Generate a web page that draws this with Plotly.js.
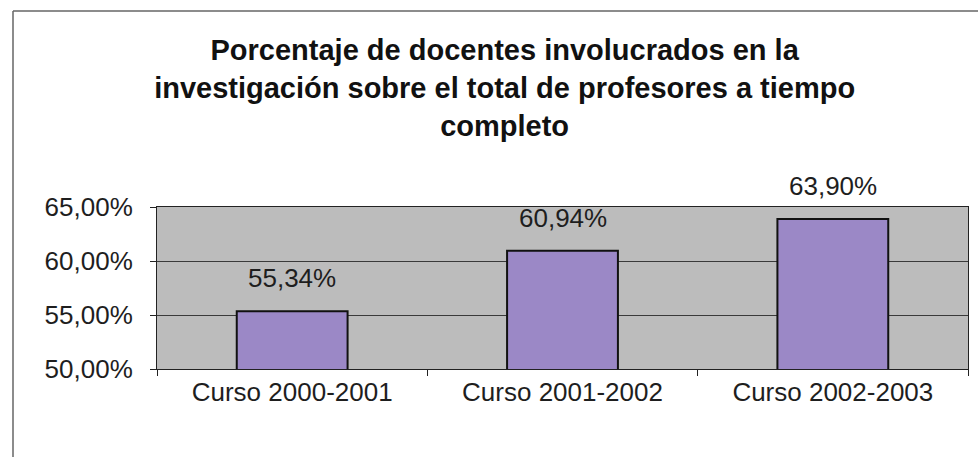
<!DOCTYPE html>
<html>
<head>
<meta charset="utf-8">
<script src="https://cdn.plot.ly/plotly-3.0.1.min.js"></script>
<style>
html,body{margin:0;padding:0;background:#fff;}
#chart{width:978px;height:457px;}
</style>
</head>
<body>
<div id="chart"></div>
<script>
var categories = ["Curso 2000-2001", "Curso 2001-2002", "Curso 2002-2003"];
var values = [55.34, 60.94, 63.90];
var yTicks = [50, 55, 60, 65];

var textColor = "#1e1e1e";
var fontFam = "Liberation Sans, Arial, sans-serif";

function pct(v){ return v.toFixed(2).replace(".", ",") + "%"; }

var trace = {
  type: "bar",
  x: categories,
  y: values,
  marker: {color: "#9b88c6", line: {color: "#111", width: 2}},
  hoverinfo: "none"
};

var annotations = categories.map(function(c, i){
  return {
    x: c, y: values[i], xref: "x", yref: "y",
    text: pct(values[i]),
    showarrow: false, yanchor: "middle", yshift: 33,
    font: {family: fontFam, size: 26, color: textColor}
  };
});

var layout = {
  width: 978, height: 457,
  margin: {l: 157, r: 10, t: 207, b: 88},
  paper_bgcolor: "#ffffff",
  plot_bgcolor: "#bcbcbc",
  showlegend: false,
  bargap: 0.59,
  title: {
    text: "<b>Porcentaje de docentes involucrados en la<br>investigación sobre el total de profesores a tiempo<br>completo</b>",
    font: {family: fontFam, size: 29, color: "#111"},
    x: 0.516, xanchor: "center",
    y: 0.868, yanchor: "top", yref: "container"
  },
  xaxis: {
    type: "category",
    tickson: "boundaries",
    ticks: "outside", ticklen: 6, tickcolor: "#222",
    showline: true, linecolor: "#222", linewidth: 1, mirror: true,
    showgrid: false,
    tickfont: {family: fontFam, size: 26, color: textColor},
    fixedrange: true
  },
  yaxis: {
    range: [50, 65],
    tickmode: "array",
    tickvals: yTicks,
    ticktext: yTicks.map(pct),
    ticks: "outside", ticklen: 6, tickcolor: "#222",
    ticklabelstandoff: 12,
    showline: true, linecolor: "#222", linewidth: 1, mirror: true,
    showgrid: true, gridcolor: "#3a3a3a", gridwidth: 1,
    zeroline: false,
    tickfont: {family: fontFam, size: 26, color: textColor},
    fixedrange: true
  },
  annotations: annotations,
  shapes: [
    {type: "line", xref: "paper", yref: "paper",
     x0: (13 - 157) / 811, x1: (978 - 157) / 811,
     y0: (369 - 11) / 162, y1: (369 - 11) / 162,
     line: {color: "#666", width: 1.5}},
    {type: "line", xref: "paper", yref: "paper",
     x0: (13 - 157) / 811, x1: (13 - 157) / 811,
     y0: (369 - 11) / 162, y1: (369 - 457) / 162,
     line: {color: "#666", width: 1.5}}
  ]
};

Plotly.newPlot("chart", [trace], layout, {displayModeBar: false, staticPlot: true});
</script>
</body>
</html>
